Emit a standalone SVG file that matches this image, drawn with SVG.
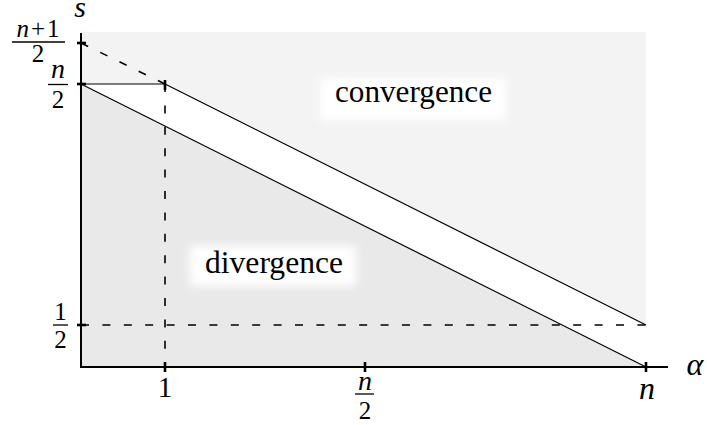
<svg xmlns="http://www.w3.org/2000/svg" width="707" height="425" viewBox="0 0 707 425">
<style>
.ax{stroke:#000;stroke-width:2;fill:none}
.tk{stroke:#000;stroke-width:2.6;fill:none}
.ln{stroke:#000;stroke-width:1.2;fill:none}
.ds{stroke:#000;stroke-width:1.6;fill:none;stroke-dasharray:8 13.4}
.bar{stroke:#000;stroke-width:1.3}
text{font-family:'Liberation Serif','DejaVu Serif',serif;fill:#000}
.m{font-style:italic}
</style>
<defs>
<filter id="soft" x="-20%" y="-40%" width="140%" height="180%">
<feGaussianBlur stdDeviation="4"/>
</filter>
</defs>
<rect width="707" height="425" fill="#fff"/>
<g id="regions">
<polygon points="81,32 646,32 646,325 165,84 81,84" fill="#f3f3f3"/>
<polygon points="81,84 646,367 81,367" fill="#e9e9e9"/>
</g>
<g id="label-backgrounds">
<rect x="320" y="78" width="186" height="42" fill="#fff" filter="url(#soft)"/>
<rect x="190" y="246" width="166" height="40" fill="#fff" filter="url(#soft)"/>
</g>
<g id="connectors">
<line class="ln" x1="81" y1="84" x2="165" y2="84"/>
<line class="ds" x1="81" y1="43" x2="165" y2="84"/>
<line class="ds" x1="165" y1="84" x2="165" y2="367"/>
<line class="ds" x1="81" y1="325" x2="646" y2="325"/>
<line class="ln" x1="165" y1="84" x2="646" y2="325"/>
<line class="ln" x1="81" y1="84" x2="646" y2="367"/>
</g>
<g id="axes">
<line class="ax" x1="81" y1="33" x2="81" y2="367"/>
<line class="ax" x1="80" y1="367" x2="668" y2="367"/>
<line class="tk" x1="77" y1="43" x2="86" y2="43"/>
<line class="tk" x1="77" y1="84" x2="86" y2="84"/>
<line class="tk" x1="77" y1="325" x2="86" y2="325"/>
<line class="tk" x1="165" y1="362" x2="165" y2="372"/>
<line class="tk" x1="365" y1="362" x2="365" y2="372"/>
<line class="tk" x1="646" y1="362" x2="646" y2="372"/>
<line class="tk" x1="165" y1="80" x2="165" y2="90"/>
</g>
<g id="y-labels">
<text class="m" x="80" y="17" font-size="30" text-anchor="middle">s</text>
<text x="38" y="37" font-size="25" text-anchor="middle"><tspan font-style="italic">n</tspan><tspan dx="2">+</tspan><tspan dx="2">1</tspan></text>
<line class="bar" x1="12" y1="42" x2="65" y2="42"/>
<text x="38" y="62" font-size="25" text-anchor="middle">2</text>
<text class="m" x="58" y="78" font-size="28" text-anchor="middle">n</text>
<line class="bar" x1="48" y1="84.5" x2="68" y2="84.5"/>
<text x="58" y="108" font-size="25" text-anchor="middle">2</text>
<text x="60.5" y="320" font-size="25" text-anchor="middle">1</text>
<line class="bar" x1="53" y1="325" x2="68" y2="325"/>
<text x="60.5" y="348" font-size="25" text-anchor="middle">2</text>
</g>
<g id="x-labels">
<text x="165" y="397" font-size="29" text-anchor="middle">1</text>
<text class="m" x="365" y="390" font-size="28" text-anchor="middle">n</text>
<line class="bar" x1="355" y1="394" x2="374" y2="394"/>
<text x="365" y="419" font-size="25" text-anchor="middle">2</text>
<text class="m" x="647" y="399" font-size="32" text-anchor="middle">n</text>
<text class="m" x="695" y="375" font-size="32" text-anchor="middle">α</text>
</g>
<g id="region-labels">
<text x="335" y="102" font-size="31" textLength="157" lengthAdjust="spacingAndGlyphs">convergence</text>
<text x="205" y="273" font-size="31" textLength="138" lengthAdjust="spacingAndGlyphs">divergence</text>
</g>
</svg>
